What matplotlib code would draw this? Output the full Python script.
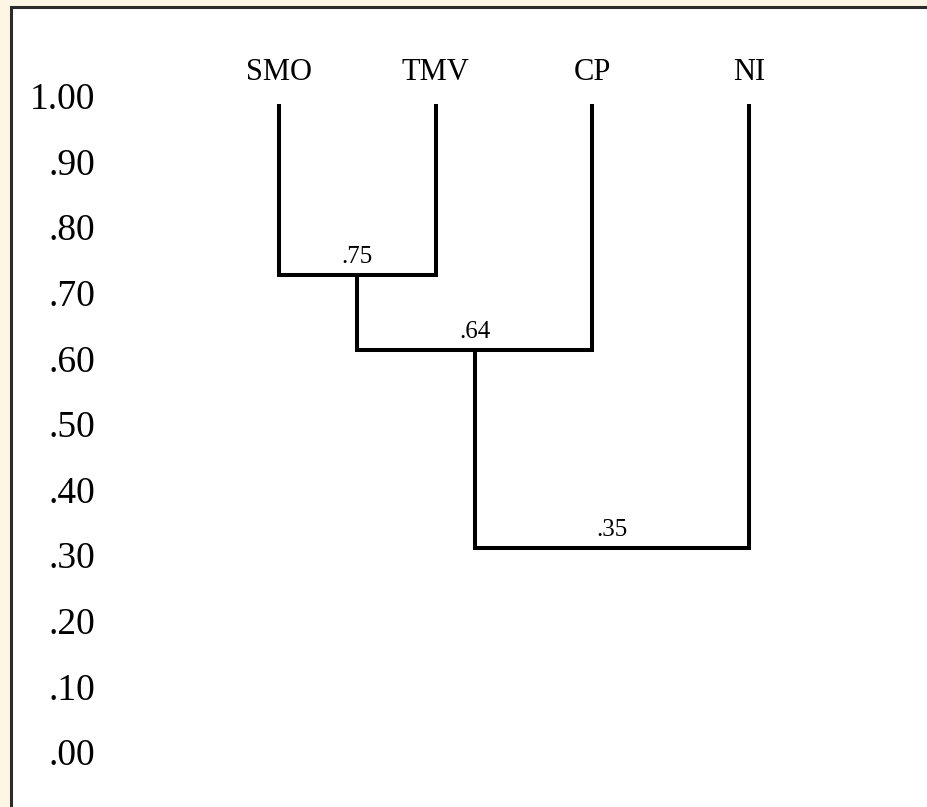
import matplotlib.pyplot as plt
from matplotlib.patches import Rectangle

# leaves and merge steps (similarity coefficients)
leaves = ['SMO', 'TMV', 'CP', 'NI']
merges = [(0, 1), (4, 2), (5, 3)]   # scipy-style: new clusters get ids 4, 5, ...
merge_heights = [0.75, 0.64, 0.35]
merge_labels = ['.75', '.64', '.35']

tick_values = [1.0, 0.9, 0.8, 0.7, 0.6, 0.5, 0.4, 0.3, 0.2, 0.1, 0.0]
tick_labels = ['1.00', '.90', '.80', '.70', '.60', '.50', '.40', '.30', '.20', '.10', '.00']

plt.rcParams['font.family'] = ['Liberation Serif', 'DejaVu Serif']

W, H = 928, 807
fig = plt.figure(figsize=(W / 100, H / 100), dpi=100)
fig.patch.set_facecolor('#fdf6e4')

# white panel with dark frame (extends past right/bottom edge)
fig.patches.append(Rectangle((11 / W, -0.1), 1.2, (H - 6.5) / H + 0.1,
                             transform=fig.transFigure, facecolor='white',
                             edgecolor='#2b2b2b', linewidth=2.2, zorder=-5))

# axis for the scale labels
lab_ax = fig.add_axes([101 / W, 0, 0.3, 1])
lab_ax.set_ylim(-55 / 656, (H - 55) / 656)
lab_ax.set_yticks(tick_values)
lab_ax.set_yticklabels(tick_labels, fontsize=27)
lab_ax.tick_params(axis='y', length=0, pad=4)
lab_ax.set_xticks([])
for s in lab_ax.spines.values():
    s.set_visible(False)
lab_ax.patch.set_visible(False)

# axis for the dendrogram
ax = fig.add_axes([0, 0, 1, 1])
ax.patch.set_visible(False)
ax.axis('off')
ax.set_xlim(-122.3 / 156.7, (W - 122.3) / 156.7)
ax.set_ylim(-20 / 683, (H - 20) / 683)

pos = {i: i + 1.0 for i in range(len(leaves))}
top = {i: 1.0 for i in range(len(leaves))}
lw = 2.9
for k, ((a, b), h) in enumerate(zip(merges, merge_heights)):
    xa, xb = pos[a], pos[b]
    ax.plot([xa, xa, xb, xb], [top[a], h, h, top[b]], color='black',
            linewidth=lw, solid_joinstyle='miter', solid_capstyle='butt')
    ax.annotate(merge_labels[k], xy=((xa + xb) / 2, h), xytext=(0, 8.5),
                textcoords='offset points', ha='center', va='baseline', fontsize=18)
    new_id = len(leaves) + k
    pos[new_id] = (xa + xb) / 2
    top[new_id] = h

for i, name in enumerate(leaves):
    ax.annotate(name, xy=(pos[i], 1.0), xytext=(0, 17), textcoords='offset points',
                ha='center', va='baseline', fontsize=22)

fig.savefig('out.png', dpi=100, facecolor=fig.get_facecolor())
